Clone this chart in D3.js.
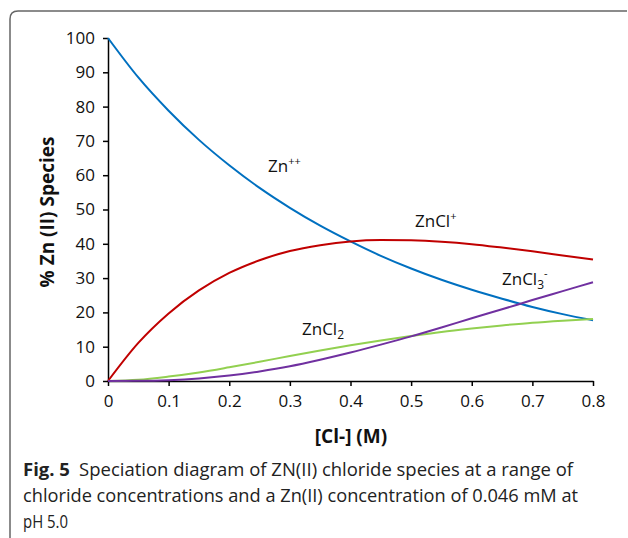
<!DOCTYPE html>
<html>
<head>
<meta charset="utf-8">
<script src="https://cdn.jsdelivr.net/npm/d3@7"></script>
<style>
  body { margin: 0; background: #fff; }
  svg text { font-family: "Open Sans", sans-serif; }
</style>
</head>
<body>
<svg width="628" height="538"></svg>
<script>
'use strict';

// [Cl-] concentrations (M)
var cloruro = [0, 0.05, 0.1, 0.15, 0.2, 0.25, 0.3, 0.35, 0.4, 0.45, 0.5, 0.55, 0.6, 0.65, 0.7, 0.75, 0.8];

// % de cada especie
var zn = [100, 88.5, 78.8, 70.3, 62.9, 56.3, 50.5, 45.3, 40.7, 36.5, 32.8, 29.5, 26.6, 24.0, 21.6, 19.5, 17.7];
var zncl = [0, 11.1, 19.7, 26.4, 31.5, 35.2, 37.9, 39.6, 40.7, 41.1, 41.0, 40.6, 39.9, 38.9, 37.8, 36.6, 35.4];
var zncl2 = [0, 0.35, 1.3, 2.5, 4.0, 5.6, 7.3, 8.9, 10.4, 11.8, 13.1, 14.3, 15.3, 16.2, 17.0, 17.6, 18.1];
var zncl3 = [0, 0.04, 0.25, 0.75, 1.6, 2.8, 4.3, 6.2, 8.3, 10.6, 13.0, 15.6, 18.3, 20.9, 23.6, 26.2, 28.8];

var xTicks = [0, 0.1, 0.2, 0.3, 0.4, 0.5, 0.6, 0.7, 0.8];
var yTicks = [0, 10, 20, 30, 40, 50, 60, 70, 80, 90, 100];

var series = [
  { nombre: "zn", valores: zn, color: "#0070C0" },
  { nombre: "zncl", valores: zncl, color: "#C00000" },
  { nombre: "zncl2", valores: zncl2, color: "#92D050" },
  { nombre: "zncl3", valores: zncl3, color: "#7030A0" }
];

var svg = d3.select("svg");

// marco
svg.append("path")
  .attr("d", "M10,538 L10,19 Q10,11 18,11 L627,11")
  .attr("fill", "none")
  .attr("stroke", "#666")
  .attr("stroke-width", 1.5);

var margin = { top: 38, left: 108 },
  width = 485,
  height = 343;

var x = d3.scaleLinear().domain([0, 0.8]).range([0, width]),
  y = d3.scaleLinear().domain([0, 100]).range([height, 0]);

var g = svg.append("g")
  .attr("transform", "translate(" + margin.left + "," + margin.top + ")");

var ejeX = g.append("g")
  .attr("transform", "translate(0," + height + ")")
  .call(d3.axisBottom(x).tickValues(xTicks).tickSize(5).tickSizeOuter(0).tickPadding(9)
    .tickFormat(function (d) { return d === 0 ? "0" : d3.format(".1f")(d); }));

var ejeY = g.append("g")
  .call(d3.axisLeft(y).tickValues(yTicks).tickSize(5).tickSizeOuter(0).tickPadding(8));

[ejeX, ejeY].forEach(function (eje) {
  eje.selectAll("path, line").attr("stroke", "#000").attr("stroke-width", 1.5);
  eje.selectAll("text").attr("font-size", 17).attr("fill", "#111")
    .style("font-family", "'Open Sans', sans-serif");
});

var linea = d3.line()
  .x(function (d, i) { return x(cloruro[i]); })
  .y(function (d) { return y(d); })
  .curve(d3.curveMonotoneX);

g.selectAll(".serie")
  .data(series)
  .enter().append("path")
  .attr("class", "serie")
  .attr("fill", "none")
  .attr("stroke", function (d) { return d.color; })
  .attr("stroke-width", 2)
  .attr("d", function (d) { return linea(d.valores); });

// etiquetas de las curvas
function etiqueta(px, py, base, sup, sub) {
  var t = svg.append("text").attr("x", px).attr("y", py)
    .attr("font-size", 17).attr("fill", "#111");
  t.append("tspan").text(base);
  if (sub) t.append("tspan").attr("font-size", 12).attr("dy", 4).text(sub);
  if (sup) t.append("tspan").attr("font-size", 11).attr("dy", sub ? -12 : -7).text(sup);
}
etiqueta(268, 172, "Zn", "++");
etiqueta(415, 227, "ZnCl", "+");
etiqueta(502, 285, "ZnCl", "-", "3");
etiqueta(302, 335, "ZnCl", null, "2");

// titulos de ejes
svg.append("text")
  .attr("x", 351).attr("y", 443)
  .attr("text-anchor", "middle")
  .attr("font-size", 19).attr("font-weight", "bold").attr("fill", "#111")
  .text("[Cl-] (M)");

svg.append("text")
  .attr("transform", "translate(54,212) rotate(-90)")
  .attr("text-anchor", "middle")
  .attr("font-size", 19).attr("font-weight", "bold").attr("fill", "#111")
  .text("% Zn (II) Species");

// pie de figura
var pie = svg.append("g").attr("fill", "#222").attr("font-size", 18);
var l1 = pie.append("text").attr("x", 23).attr("y", 476)
  .attr("textLength", 550).attr("lengthAdjust", "spacingAndGlyphs");
l1.append("tspan").attr("font-weight", "bold").text("Fig. 5");
l1.append("tspan").text("\u2002Speciation diagram of ZN(II) chloride species at a range of");
pie.append("text").attr("x", 23).attr("y", 502)
  .attr("textLength", 555).attr("lengthAdjust", "spacingAndGlyphs")
  .text("chloride concentrations and a Zn(II) concentration of 0.046 mM at");
pie.append("text").attr("x", 23).attr("y", 528)
  .attr("textLength", 45).attr("lengthAdjust", "spacingAndGlyphs")
  .text("pH 5.0");
</script>
</body>
</html>
